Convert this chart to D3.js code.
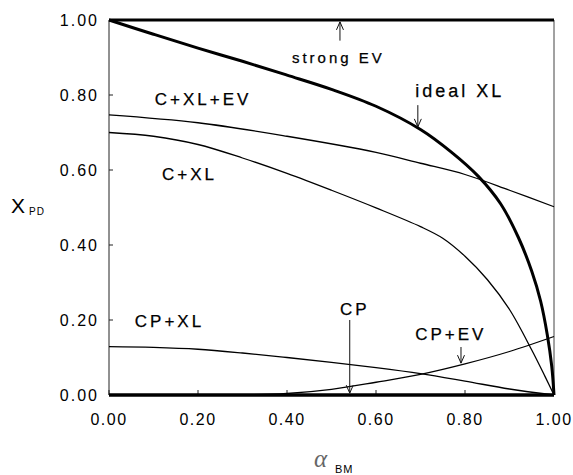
<!DOCTYPE html>
<html>
<head>
<meta charset="utf-8">
<script src="https://cdn.jsdelivr.net/npm/d3@7"></script>
<style>
  body { margin: 0; background: #fff; }
  svg { display: block; }
  text { font-family: "Liberation Sans", Arial, sans-serif; fill: #000; }
</style>
</head>
<body>
<div id="chart"></div>
<script>
var width = 573,
    height = 475;

// alpha_BM sample positions and X_PD values
var idealAlpha = [0, 0.1, 0.2, 0.3, 0.4, 0.5, 0.6, 0.7, 0.77, 0.83, 0.88, 0.92, 0.95, 0.97, 0.985, 0.995, 1.0];
var idealXL    = [1.0, 0.962, 0.925, 0.89, 0.853, 0.815, 0.77, 0.708, 0.647, 0.583, 0.51, 0.42, 0.33, 0.25, 0.16, 0.076, 0.0];

var cxlevAlpha = [0, 0.2, 0.4, 0.6, 0.7, 0.8, 0.9, 1.0];
var cxlev      = [0.747, 0.726, 0.690, 0.647, 0.618, 0.588, 0.546, 0.502];

var cxlAlpha = [0, 0.1, 0.2, 0.3, 0.4, 0.5, 0.6, 0.7, 0.75, 0.8, 0.85, 0.9, 0.95, 0.98, 1.0];
var cxl      = [0.70, 0.69, 0.668, 0.632, 0.591, 0.546, 0.499, 0.449, 0.418, 0.37, 0.308, 0.228, 0.12, 0.049, 0.0];

var cpxlAlpha = [0, 0.1, 0.2, 0.3, 0.4, 0.5, 0.6, 0.7, 0.8, 0.9, 1.0];
var cpxl      = [0.129, 0.127, 0.122, 0.112, 0.100, 0.087, 0.073, 0.057, 0.037, 0.016, 0.0];

var cpevAlpha = [0, 0.3, 0.4, 0.5, 0.6, 0.7, 0.8, 0.9, 1.0];
var cpev      = [0, 0, 0.004, 0.015, 0.034, 0.055, 0.083, 0.116, 0.156];

var strongAlpha = [0, 1], strongEV = [1, 1];
var cpAlpha = [0, 1], cp = [0, 0];

var xTicks = [0, 0.2, 0.4, 0.6, 0.8, 1.0];
var yTicks = [0, 0.2, 0.4, 0.6, 0.8, 1.0];

// label text, anchor (alpha, X) for left/baseline
var labels = [
  { text: "strong EV", a: 0.411, v: 0.885, size: 15 },
  { text: "ideal XL",  a: 0.688, v: 0.795, size: 18 },
  { text: "C+XL+EV",   a: 0.103, v: 0.773, size: 17 },
  { text: "C+XL",      a: 0.119, v: 0.573, size: 17 },
  { text: "CP+XL",     a: 0.058, v: 0.181, size: 17 },
  { text: "CP",        a: 0.519, v: 0.213, size: 17 },
  { text: "CP+EV",     a: 0.688, v: 0.147, size: 17 }
];

// arrows: alpha, from X, to X (head at "to")
var arrows = [
  { a: 0.519, from: 0.945, to: 0.995 },
  { a: 0.694, from: 0.773, to: 0.715 },
  { a: 0.541, from: 0.200, to: 0.005 },
  { a: 0.791, from: 0.128, to: 0.085 }
];

var x = d3.scaleLinear().domain([0, 1]).range([109, 554]);
var y = d3.scaleLinear().domain([0, 1]).range([395, 20]);

var svg = d3.select("#chart").append("svg")
  .attr("width", width)
  .attr("height", height);

// frame: left axis + right edge
svg.append("line")
  .attr("x1", x(0)).attr("x2", x(0))
  .attr("y1", y(0)).attr("y2", y(1))
  .attr("stroke", "#222").attr("stroke-width", 1);
svg.append("line")
  .attr("x1", x(1)).attr("x2", x(1))
  .attr("y1", y(0)).attr("y2", y(1))
  .attr("stroke", "#444").attr("stroke-width", 1);

// inward ticks
svg.selectAll(".ytick").data(yTicks).enter().append("line")
  .attr("x1", x(0)).attr("x2", x(0) + 4)
  .attr("y1", function(d) { return y(d); })
  .attr("y2", function(d) { return y(d); })
  .attr("stroke", "#222");
svg.selectAll(".xtick").data(xTicks).enter().append("line")
  .attr("x1", function(d) { return x(d); })
  .attr("x2", function(d) { return x(d); })
  .attr("y1", y(0)).attr("y2", y(0) - 5)
  .attr("stroke", "#222");

var fmt = d3.format(".2f");
svg.selectAll(".ylab").data(yTicks).enter().append("text")
  .attr("x", 99)
  .attr("y", function(d) { return y(d) + 6; })
  .attr("text-anchor", "end")
  .style("font-size", "16px")
  .style("letter-spacing", "2px")
  .text(fmt);
svg.selectAll(".xlab").data(xTicks).enter().append("text")
  .attr("x", function(d) { return x(d); })
  .attr("y", 425)
  .attr("text-anchor", "middle")
  .style("font-size", "16px")
  .style("letter-spacing", "1.5px")
  .text(fmt);

// curves
var line = d3.line()
  .x(function(d) { return x(d[0]); })
  .y(function(d) { return y(d[1]); })
  .curve(d3.curveCatmullRom.alpha(0.5));

function drawCurve(as, vs, w) {
  svg.append("path")
    .datum(d3.zip(as, vs))
    .attr("d", line)
    .attr("fill", "none")
    .attr("stroke", "#000")
    .attr("stroke-width", w);
}
drawCurve(cxlevAlpha, cxlev, 1.3);
drawCurve(cxlAlpha, cxl, 1.3);
drawCurve(cpxlAlpha, cpxl, 1.3);
drawCurve(cpevAlpha, cpev, 1.3);
drawCurve(strongAlpha, strongEV, 3);
drawCurve(cpAlpha, cp, 3.5);
drawCurve(idealAlpha, idealXL, 3);

// arrows with open heads
arrows.forEach(function(d) {
  var ax = x(d.a), y1 = y(d.from), y2 = y(d.to);
  var dir = y2 > y1 ? 1 : -1;
  svg.append("line")
    .attr("x1", ax).attr("x2", ax)
    .attr("y1", y1).attr("y2", y2)
    .attr("stroke", "#111").attr("stroke-width", 1);
  svg.append("path")
    .attr("d", "M" + (ax - 3.5) + "," + (y2 - dir * 8) + "L" + ax + "," + y2 + "L" + (ax + 3.5) + "," + (y2 - dir * 8))
    .attr("fill", "none")
    .attr("stroke", "#111").attr("stroke-width", 1);
});

// curve labels
svg.selectAll(".clab").data(labels).enter().append("text")
  .attr("x", function(d) { return x(d.a); })
  .attr("y", function(d) { return y(d.v); })
  .style("font-size", function(d) { return d.size + "px"; })
  .style("letter-spacing", "3px")
  .style("stroke", "#000")
  .style("stroke-width", 0.25)
  .text(function(d) { return d.text; });

// axis titles
svg.append("text").attr("x", 11).attr("y", 213)
  .style("font-size", "21px").text("X");
svg.append("text").attr("x", 29).attr("y", 215)
  .style("font-size", "10px").style("letter-spacing", "1px").text("PD");

svg.append("text").attr("x", 314).attr("y", 467)
  .style("font-family", "'Liberation Serif', serif")
  .style("font-style", "italic")
  .style("font-size", "25px")
  .style("fill", "#666")
  .text("α");
svg.append("text").attr("x", 335).attr("y", 473)
  .style("font-size", "11px").style("letter-spacing", "1px").text("BM");
</script>
</body>
</html>
